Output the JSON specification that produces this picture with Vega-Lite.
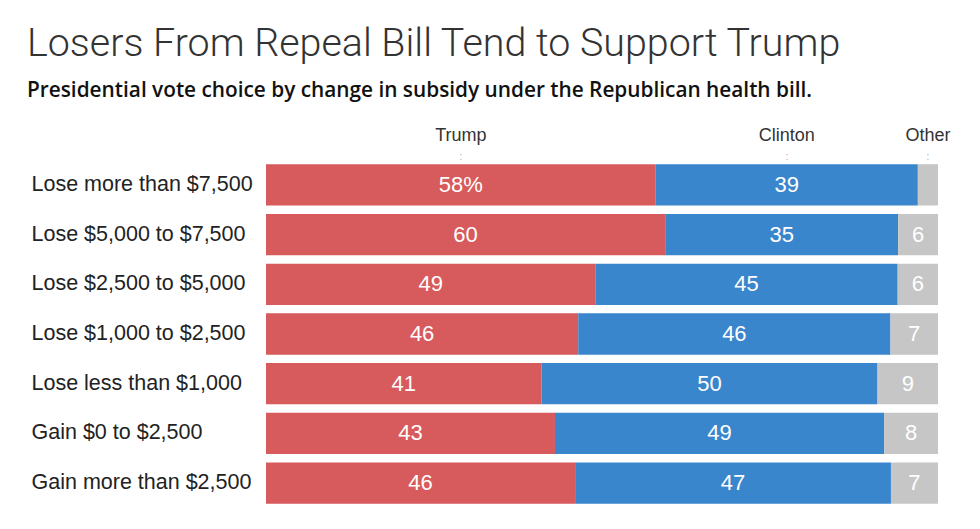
{
  "$schema": "https://vega.github.io/schema/vega-lite/v6.json",
  "autosize": {"type": "none"},
  "width": 672,
  "height": 348,
  "padding": {"left": 266, "top": 160, "right": 42, "bottom": 21},
  "background": "white",
  "title": {
    "text": "Losers From Repeal Bill Tend to Support Trump",
    "subtitle": "Presidential vote choice by change in subsidy under the Republican health bill.",
    "anchor": "start",
    "frame": "group",
    "dx": -239,
    "offset": 25,
    "font": "Roboto",
    "fontSize": 39.4,
    "fontWeight": 300,
    "color": "#333333",
    "subtitleFont": "Open Sans",
    "subtitleFontSize": 20.8,
    "subtitleFontWeight": 600,
    "subtitleColor": "#111111",
    "subtitlePadding": 17
  },
  "data": {
    "values": [
      {"group": "Lose more than $7,500", "candidate": "Trump", "pct": 58, "order": 1},
      {"group": "Lose more than $7,500", "candidate": "Clinton", "pct": 39, "order": 2},
      {"group": "Lose more than $7,500", "candidate": "Other", "pct": 3, "order": 3},
      {"group": "Lose $5,000 to $7,500", "candidate": "Trump", "pct": 60, "order": 1},
      {"group": "Lose $5,000 to $7,500", "candidate": "Clinton", "pct": 35, "order": 2},
      {"group": "Lose $5,000 to $7,500", "candidate": "Other", "pct": 6, "order": 3},
      {"group": "Lose $2,500 to $5,000", "candidate": "Trump", "pct": 49, "order": 1},
      {"group": "Lose $2,500 to $5,000", "candidate": "Clinton", "pct": 45, "order": 2},
      {"group": "Lose $2,500 to $5,000", "candidate": "Other", "pct": 6, "order": 3},
      {"group": "Lose $1,000 to $2,500", "candidate": "Trump", "pct": 46, "order": 1},
      {"group": "Lose $1,000 to $2,500", "candidate": "Clinton", "pct": 46, "order": 2},
      {"group": "Lose $1,000 to $2,500", "candidate": "Other", "pct": 7, "order": 3},
      {"group": "Lose less than $1,000", "candidate": "Trump", "pct": 41, "order": 1},
      {"group": "Lose less than $1,000", "candidate": "Clinton", "pct": 50, "order": 2},
      {"group": "Lose less than $1,000", "candidate": "Other", "pct": 9, "order": 3},
      {"group": "Gain $0 to $2,500", "candidate": "Trump", "pct": 43, "order": 1},
      {"group": "Gain $0 to $2,500", "candidate": "Clinton", "pct": 49, "order": 2},
      {"group": "Gain $0 to $2,500", "candidate": "Other", "pct": 8, "order": 3},
      {"group": "Gain more than $2,500", "candidate": "Trump", "pct": 46, "order": 1},
      {"group": "Gain more than $2,500", "candidate": "Clinton", "pct": 47, "order": 2},
      {"group": "Gain more than $2,500", "candidate": "Other", "pct": 7, "order": 3}
    ]
  },
  "transform": [
    {"stack": "pct", "groupby": ["group"], "sort": [{"field": "order", "order": "ascending"}], "offset": "normalize", "as": ["x0", "x1"]},
    {"calculate": "(datum.x0 + datum.x1) / 2", "as": "mid"},
    {"calculate": "datum.group === 'Lose more than $7,500' && datum.candidate === 'Trump' ? datum.pct + '%' : (datum.pct < 5 ? '' : '' + datum.pct)", "as": "label"}
  ],
  "encoding": {
    "y": {
      "field": "group",
      "type": "nominal",
      "sort": ["Lose more than $7,500", "Lose $5,000 to $7,500", "Lose $2,500 to $5,000", "Lose $1,000 to $2,500", "Lose less than $1,000", "Gain $0 to $2,500", "Gain more than $2,500"],
      "scale": {"paddingInner": 0.17, "paddingOuter": 0.085},
      "axis": {
        "title": null,
        "domain": false,
        "ticks": false,
        "labelAlign": "left",
        "labelPadding": 235,
        "labelFont": "Liberation Sans",
        "labelFontSize": 21.5,
        "labelColor": "#222222",
        "labelLimit": 300
      }
    }
  },
  "layer": [
    {
      "mark": {"type": "bar"},
      "encoding": {
        "x": {"field": "x0", "type": "quantitative", "scale": {"domain": [0, 1]}, "axis": null},
        "x2": {"field": "x1"},
        "color": {
          "field": "candidate",
          "type": "nominal",
          "scale": {"domain": ["Trump", "Clinton", "Other"], "range": ["#d75a5c", "#3a86cc", "#c6c6c6"]},
          "legend": null
        }
      }
    },
    {
      "mark": {"type": "text", "font": "Liberation Sans", "fontSize": 22, "color": "white"},
      "encoding": {
        "x": {"field": "mid", "type": "quantitative"},
        "text": {"field": "label"}
      }
    },
    {
      "transform": [{"filter": "datum.group === 'Lose more than $7,500'"}],
      "mark": {"type": "text", "font": "Liberation Sans", "fontSize": 18, "color": "#333333", "dy": -49},
      "encoding": {
        "x": {"field": "mid", "type": "quantitative"},
        "text": {"field": "candidate"}
      }
    },
    {
      "transform": [{"filter": "datum.group === 'Lose more than $7,500'"}],
      "mark": {"type": "text", "font": "Liberation Sans", "fontSize": 10, "color": "#aaaaaa", "dy": -28, "text": ":"},
      "encoding": {
        "x": {"field": "mid", "type": "quantitative"}
      }
    }
  ],
  "config": {"view": {"stroke": null}}
}
